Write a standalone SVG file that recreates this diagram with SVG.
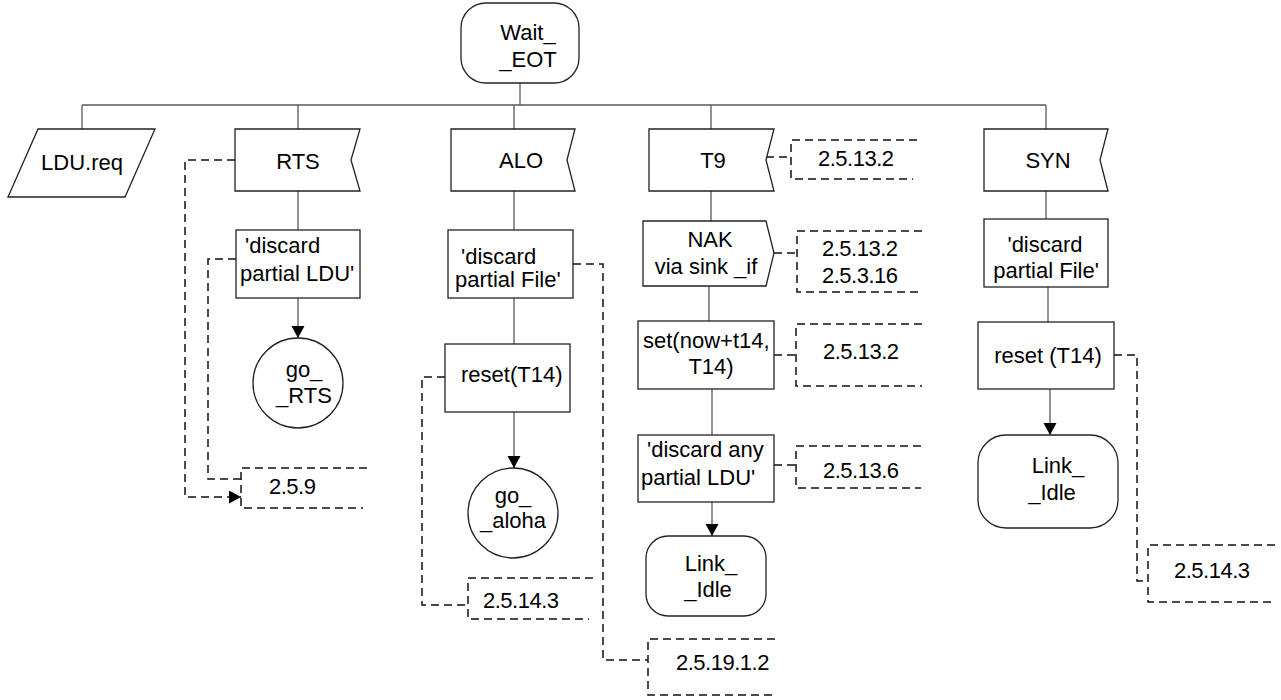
<svg xmlns="http://www.w3.org/2000/svg" width="1281" height="700" viewBox="0 0 1281 700">
<defs>
<style>
.bg{fill:#fff}
.shape{fill:#fff;stroke:#222;stroke-width:1.3}
.conn{fill:none;stroke:#5a5a5a;stroke-width:1.3}
.dash{fill:none;stroke:#111;stroke-width:1.5;stroke-dasharray:8,5}
.t{font-family:"Liberation Sans",Arial,sans-serif;font-size:22px;fill:#000}
.c{font-family:"Liberation Sans",Arial,sans-serif;font-size:22px;fill:#000;letter-spacing:-0.5px}
.m{text-anchor:middle}
</style>
<marker id="arr" markerUnits="userSpaceOnUse" markerWidth="14" markerHeight="14" refX="12" refY="6.5" orient="auto">
<path d="M0,0 L12,6.5 L0,13 Z" fill="#000"/>
</marker>
</defs>
<rect class="bg" x="0" y="0" width="1281" height="700"/>

<g id="connectors">
<path class="conn" d="M520,83 V105 M82,105 H1046 M82,105 V129 M298,105 V129 M514,105 V129 M711,105 V129 M1046,105 V129"/>
<path class="conn" d="M298,191 V230 M514,191 V230 M514,298 V344 M711,191 V221 M709,286 V321 M712,389 V435 M1046,191 V219 M1048,287 V322"/>
<path class="conn" d="M298,298 V338" marker-end="url(#arr)"/>
<path class="conn" d="M514,412 V468" marker-end="url(#arr)"/>
<path class="conn" d="M712,502 V536" marker-end="url(#arr)"/>
<path class="conn" d="M1050,389 V435" marker-end="url(#arr)"/>
<path class="dash" d="M766,157 H791"/>
<path class="dash" d="M774,253 H797"/>
<path class="dash" d="M774,355 H796"/>
<path class="dash" d="M774,465 H796"/>
<path class="dash" d="M236,259 H208 V479 H241"/>
<path class="dash" d="M235,160 H185 V497 H241" marker-end="url(#arr)"/>
<path class="dash" d="M445,377 H422 V605 H468"/>
<path class="dash" d="M573,264 H603 V660 H648"/>
<path class="dash" d="M1114,355 H1137 V581 H1148"/>
</g>

<g id="wait_eot">
<rect class="shape" x="461" y="3" width="118" height="80" rx="25"/>
<text class="t m" x="528" y="40">Wait_</text>
<text class="t m" x="528" y="67">_EOT</text>
</g>

<g id="ldu_req">
<polygon class="shape" points="38,129 155,129 125,197 8,197"/>
<text class="t m" x="82" y="170">LDU.req</text>
</g>

<g id="rts">
<polygon class="shape" points="235,129 360,129 351,160 360,191 235,191"/>
<text class="t m" x="298" y="169">RTS</text>
</g>
<g id="rts_discard">
<rect class="shape" x="236" y="230" width="124" height="68"/>
<text class="t" x="245" y="253">'discard</text>
<text class="t" x="240" y="281">partial LDU'</text>
</g>
<g id="go_rts">
<circle class="shape" cx="298" cy="383" r="45"/>
<text class="t m" x="304" y="377">go_</text>
<text class="t m" x="304" y="403">_RTS</text>
</g>
<g id="c_259">
<path class="dash" d="M367,468 H241 V508 H363"/>
<text class="c" x="269" y="494">2.5.9</text>
</g>

<g id="alo">
<polygon class="shape" points="451,129 575,129 567,160 575,191 451,191"/>
<text class="t m" x="521" y="168">ALO</text>
</g>
<g id="alo_discard">
<rect class="shape" x="448" y="230" width="125" height="68"/>
<text class="t" x="461" y="264">'discard</text>
<text class="t" x="455" y="287">partial File'</text>
</g>
<g id="alo_reset">
<rect class="shape" x="445" y="344" width="125" height="68"/>
<text class="t" x="461" y="382">reset(T14)</text>
</g>
<g id="go_aloha">
<circle class="shape" cx="513" cy="513" r="45"/>
<text class="t m" x="513" y="503">go_</text>
<text class="t m" x="513" y="528">_aloha</text>
</g>
<g id="c_alo_2514">
<path class="dash" d="M593,578 H468 V619 H589"/>
<text class="c" x="483" y="608">2.5.14.3</text>
</g>
<g id="c_251912">
<path class="dash" d="M775,639 H648 V695 H775"/>
<text class="c" x="676" y="670">2.5.19.1.2</text>
</g>

<g id="t9">
<polygon class="shape" points="649,129 774,129 766,160 774,191 649,191"/>
<text class="t m" x="713" y="168">T9</text>
</g>
<g id="c_t9">
<path class="dash" d="M917,140 H791 V179 H913"/>
<text class="c" x="818" y="166">2.5.13.2</text>
</g>
<g id="nak">
<polygon class="shape" points="643,221 766,221 774,253 766,286 643,286"/>
<text class="t m" x="710" y="247">NAK</text>
<text class="t m" x="706" y="274">via sink _if</text>
</g>
<g id="c_nak">
<path class="dash" d="M922,231 H797 V292 H920"/>
<text class="c" x="822" y="256">2.5.13.2</text>
<text class="c" x="822" y="283">2.5.3.16</text>
</g>
<g id="set_t14">
<rect class="shape" x="638" y="321" width="136" height="68"/>
<text class="t" x="643" y="348">set(now+t14,</text>
<text class="t m" x="711" y="374">T14)</text>
</g>
<g id="c_set">
<path class="dash" d="M922,324 H796 V386 H922"/>
<text class="c" x="823" y="359">2.5.13.2</text>
</g>
<g id="t9_discard">
<rect class="shape" x="638" y="435" width="136" height="67"/>
<text class="t" x="647" y="457">'discard any</text>
<text class="t" x="641" y="485">partial LDU'</text>
</g>
<g id="c_discard_any">
<path class="dash" d="M921,446 H796 V488 H921"/>
<text class="c" x="823" y="478">2.5.13.6</text>
</g>
<g id="link_idle_t9">
<rect class="shape" x="646" y="536" width="120" height="80" rx="22"/>
<text class="t m" x="711" y="571">Link_</text>
<text class="t m" x="708" y="597">_Idle</text>
</g>

<g id="syn">
<polygon class="shape" points="984,129 1108,129 1100,160 1108,191 984,191"/>
<text class="t m" x="1048" y="168">SYN</text>
</g>
<g id="syn_discard">
<rect class="shape" x="984" y="219" width="124" height="68"/>
<text class="t m" x="1045" y="252">'discard</text>
<text class="t m" x="1046" y="278">partial File'</text>
</g>
<g id="syn_reset">
<rect class="shape" x="978" y="322" width="136" height="67"/>
<text class="t m" x="1048" y="363">reset (T14)</text>
</g>
<g id="link_idle_syn">
<rect class="shape" x="978" y="435" width="140" height="93" rx="28"/>
<text class="t m" x="1058" y="473">Link_</text>
<text class="t m" x="1052" y="500">_Idle</text>
</g>
<g id="c_syn_2514">
<path class="dash" d="M1275,545 H1148 V602 H1272"/>
<text class="c" x="1174" y="578">2.5.14.3</text>
</g>
</svg>
